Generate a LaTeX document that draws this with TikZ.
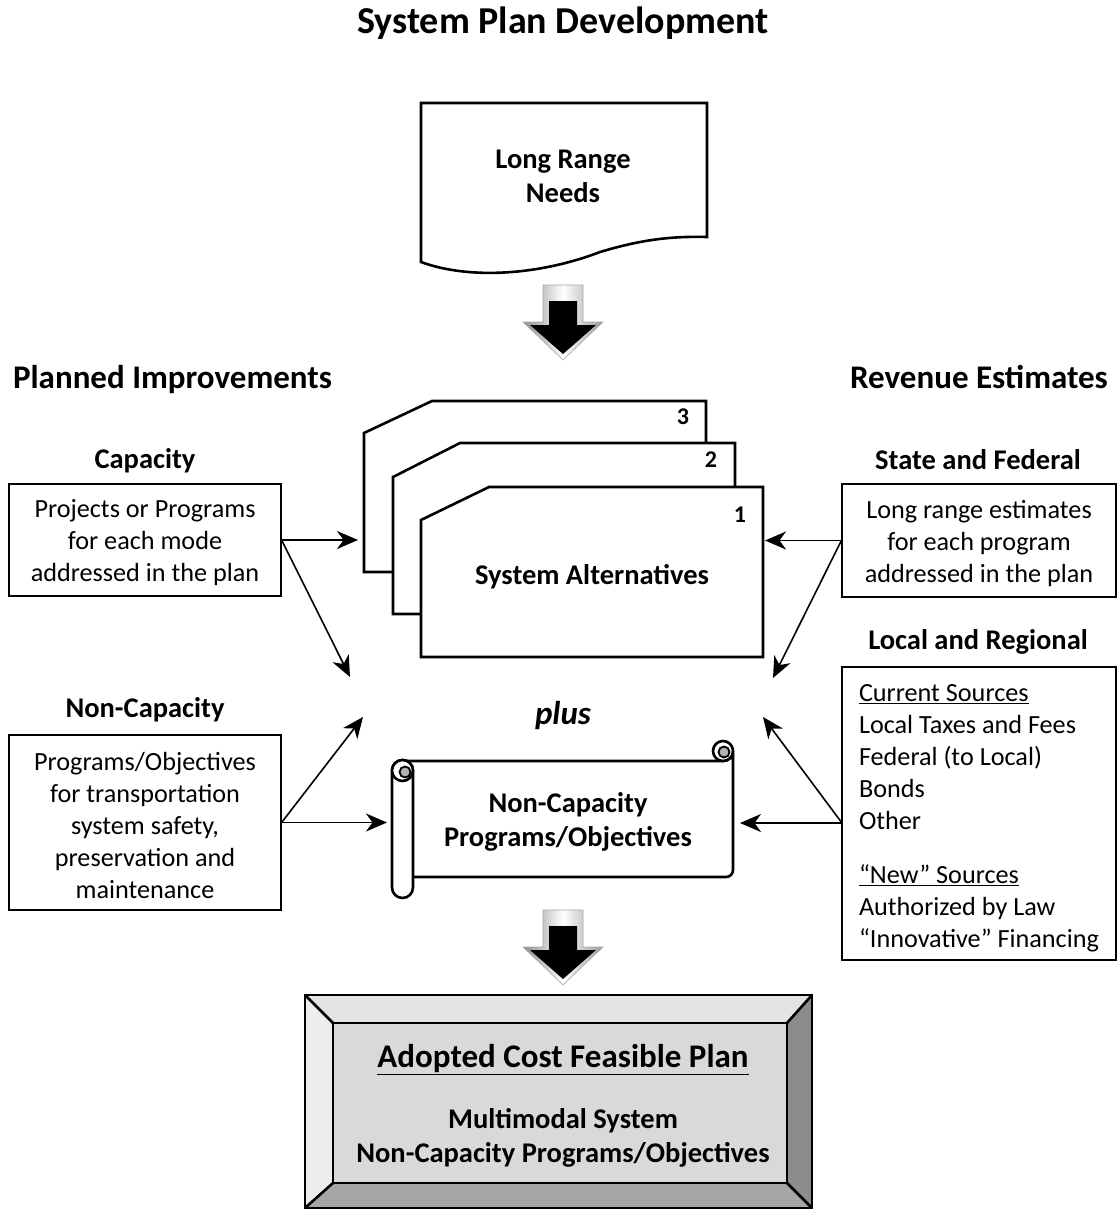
\documentclass[tikz,border=0pt]{standalone}
\usepackage{fontspec}
\setmainfont{Carlito}
\usetikzlibrary{arrows.meta}
\begin{document}
\begin{tikzpicture}[x=1pt,y=-1pt,
  shp/.style={line width=2.6pt, line join=miter},
  bx/.style={draw, line width=1.2pt, inner sep=0pt},
  arr/.style={line width=1.6pt, -{Stealth[length=21pt,width=18pt,inset=6.5pt]}},
  hd/.style={font=\fontsize{28.5}{34}\selectfont\bfseries},
  bt/.style={font=\fontsize{26.2}{32}\selectfont, inner sep=0pt},
  title/.style={font=\fontsize{38}{44}\selectfont\bfseries},
  sect/.style={font=\fontsize{33}{38}\selectfont\bfseries},
  num/.style={font=\fontsize{24}{26}\selectfont\bfseries}
]
\useasboundingbox (0,0) rectangle (1117,1210);

% ---------- Title and headings
\node[title] (title) at (563,23) {System Plan Development};
\node[sect] (pi) at (172.5,380) {Planned Improvements};
\node[sect] (re) at (979,377) {Revenue Estimates};
\node[hd] (hcap) at (145,461) {Capacity};
\node[hd] (hsf) at (978,460) {State and Federal};
\node[hd] (hlr) at (978,642) {Local and Regional};
\node[hd] (hnc) at (145,710) {Non-Capacity};

% ---------- Long Range Needs document
\draw[shp, fill=white] (421,103) -- (707,103) -- (707,237)
  .. controls (670,236) and (640,240) .. (600,252)
  .. controls (540,275) and (470,280) .. (421,262) -- cycle;
\node[hd, align=center] (lrn) at (563,176) {Long Range\\Needs};

% ---------- block arrows
\foreach \dy/\nm in {0/ba1, 625/ba2}{
  \begin{scope}[shift={(0,\dy)}]
    \shade[left color=black!45, right color=black!40, middle color=white, draw=black!35, line width=0.6pt]
      (543,285) -- (583,285) -- (583,322) -- (603,322) -- (563,360) -- (523,322) -- (543,322) -- cycle;
    \fill[black] (549,301) -- (577,301) -- (577,325) -- (596,325) -- (563,354) -- (530,325) -- (549,325) -- cycle;
    \coordinate (\nm) at (563,320);
  \end{scope}
}

% ---------- stacked System Alternatives documents
\draw[shp, fill=white] (364,433) -- (432,401) -- (706,401) -- (706,572) -- (364,572) -- cycle;
\node[num] (n3) at (683,417) {3};
\draw[shp, fill=white] (393,477) -- (460,443) -- (735,443) -- (735,614) -- (393,614) -- cycle;
\node[num] (n2) at (711,460) {2};
\draw[shp, fill=white] (421,520) -- (489,487) -- (763,487) -- (763,657) -- (421,657) -- cycle;
\node[num] (n1) at (740,515) {1};
\node[hd] (sa) at (592,577) {System Alternatives};

% ---------- plus
\node[font=\fontsize{33}{38}\selectfont\bfseries\itshape] (plus) at (563,716) {plus};

% ---------- scroll
\draw[shp, fill=white] (402,761) -- (723,761) .. controls (729,761) and (733,757) .. (733,751)
  [rounded corners=7pt] -- (733,877) -- (413,877) [sharp corners] -- (402,877) -- cycle;
\draw[shp, fill=white] (723,751) circle[radius=10];
\draw[line width=1.8pt, fill=black!30] (724,752) circle[radius=5.5];
\draw[shp, fill=white, rounded corners=10.5pt] (392,760) rectangle (413,898);
\draw[shp, fill=white] (402.5,770.5) circle[radius=10.5];
\draw[line width=1.8pt, fill=black!30] (405,772) circle[radius=5.5];
\node[hd, align=center] (ncp) at (568,822) {Non-Capacity\\Programs/Objectives};

% ---------- side boxes
\node[bx, minimum width=272pt, minimum height=112pt] (cap) at (145,540) {};
\node[bt, align=center] (captxt) at ([yshift=-3pt]cap.center)
  {Projects or Programs\\for each mode\\addressed in the plan};
\node[bx, minimum width=272pt, minimum height=175pt] (nc) at (145,822.5) {};
\node[bt, align=center] (nctxt) at ([yshift=-3pt]nc.center)
  {Programs/Objectives\\for transportation\\system safety,\\preservation and\\maintenance};
\node[bx, minimum width=274pt, minimum height=113pt] (sf) at (979,540.5) {};
\node[bt, align=center] (sftxt) at ([yshift=-3pt]sf.center)
  {Long range estimates\\for each program\\addressed in the plan};
\node[bx, minimum width=274pt, minimum height=293pt] (loc) at (979,813.5) {};
\node[bt, text width=240pt, align=flush left] (loctxt) at ([yshift=-5pt]loc.center)
  {\underline{Current Sources}\\Local Taxes and Fees\\Federal (to Local)\\Bonds\\Other\\[22pt]\underline{“New” Sources}\\Authorized by Law\\“Innovative” Financing};

% ---------- connector targets
\coordinate (c1) at (358,540);
\coordinate (c2) at (350,677);
\coordinate (d1) at (387,822.5);
\coordinate (d2) at (363,717);
\coordinate (s1) at (765,540.5);
\coordinate (s2) at (773,678);
\coordinate (lsrc) at (842,823);
\coordinate (l1) at (740,823);
\coordinate (l2) at (763,717);

\draw[arr] (cap.east) -- (c1);
\draw[arr] (cap.east) -- (c2);
\draw[arr] (nc.east) -- (d1);
\draw[arr] (nc.east) -- (d2);
\draw[arr] (sf.west) -- (s1);
\draw[arr] (sf.west) -- (s2);
\draw[arr] (lsrc) -- (l1);
\draw[arr] (lsrc) -- (l2);

% ---------- bevelled final plan box
\fill[black!11] (305,995) -- (812,995) -- (787,1023) -- (333,1023) -- cycle;
\fill[black!7] (305,995) -- (333,1023) -- (333,1183) -- (305,1208) -- cycle;
\fill[black!45] (812,995) -- (812,1208) -- (787,1183) -- (787,1023) -- cycle;
\fill[black!35] (305,1208) -- (812,1208) -- (787,1183) -- (333,1183) -- cycle;
\fill[black!15] (333,1023) rectangle (787,1183);
\draw[shp] (305,995) rectangle (812,1208);
\draw[shp] (333,1023) rectangle (787,1183);
\draw[shp] (305,995) -- (333,1023) (812,995) -- (787,1023) (305,1208) -- (333,1183) (812,1208) -- (787,1183);
\node[font=\fontsize{33}{38}\selectfont\bfseries] (acfp) at (563,1060) {\underline{Adopted Cost Feasible Plan}};
\node[hd, align=center] (mms) at (563,1138) {Multimodal System\\Non-Capacity Programs/Objectives};
\end{tikzpicture}
\end{document}
